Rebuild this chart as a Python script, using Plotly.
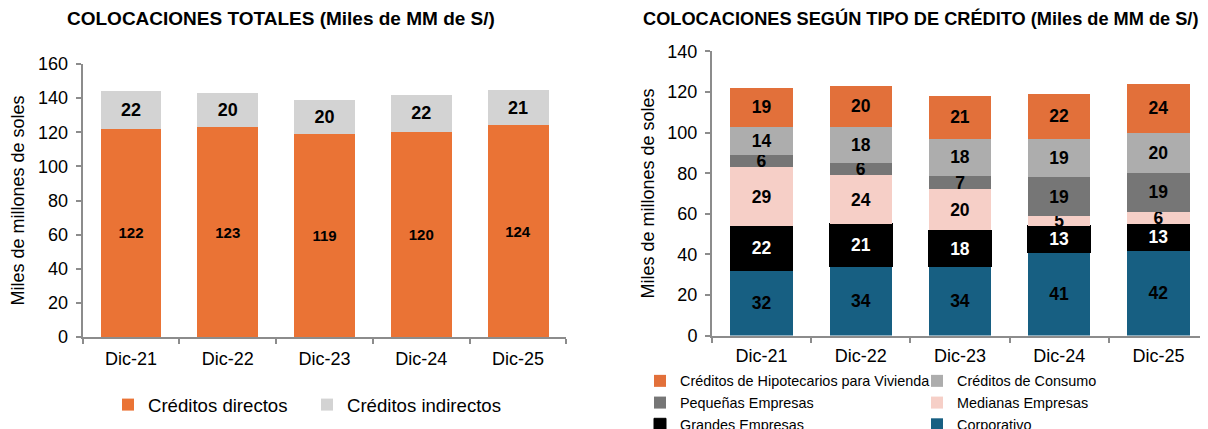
import plotly.graph_objects as go

categories = ["Dic-21", "Dic-22", "Dic-23", "Dic-24", "Dic-25"]

# Left chart
directos = [122, 123, 119, 120, 124]
indirectos = [22, 20, 20, 22, 21]

# Right chart (bottom to top)
corporativo = [32, 34, 33.8, 41, 42]
grandes = [22, 21, 18.2, 13, 13]
medianas = [29, 24, 20.1, 5, 6]
pequenas = [6, 6, 6.6, 19, 19]
consumo = [14, 18, 18.3, 19, 20]
hipotecarios = [19, 20, 21.2, 22, 24]

FONT = "Liberation Sans, Arial, sans-serif"
ORANGE = "#EA7335"
ORANGE2 = "#E2703A"

# page has an 8px body margin: figure sized to fit the 1208x429 window
W, H, OFF = 1200, 421, 8


def px(x):
    return (x - OFF) / W


def py(y):
    return 1 - (y - OFF) / H


fig = go.Figure()


def add_bar(y, name, color, xa, ya, legend, textcolor="black", size=17.5, line=None):
    fig.add_trace(go.Bar(
        x=categories, y=y, name=name, xaxis=xa, yaxis=ya, legend=legend,
        marker=dict(color=color, line=dict(width=0 if line is None else 1, color=line or color)),
        texttemplate="<b>%{y:.0f}</b>", textposition="inside", textangle=0,
        insidetextanchor="middle", constraintext="none",
        textfont=dict(family=FONT, size=size, color=textcolor),
    ))


add_bar(directos, "Créditos directos", ORANGE, "x", "y", "legend", size=15)
add_bar(indirectos, "Créditos indirectos", "#D3D3D3", "x", "y", "legend4", size=18)

add_bar(corporativo, "Corporativo", "#175F82", "x2", "y2", "legend3")
add_bar(grandes, "Grandes Empresas", "#000000", "x2", "y2", "legend2", "white", line="#000000")
add_bar(medianas, "Medianas Empresas", "#F6CFC7", "x2", "y2", "legend3")
add_bar(pequenas, "Pequeñas Empresas", "#767676", "x2", "y2", "legend2")
add_bar(consumo, "Créditos de Consumo", "#ADADAD", "x2", "y2", "legend3")
add_bar(hipotecarios, "Créditos de Hipotecarios para Vivienda", ORANGE2, "x2", "y2", "legend2")

axis_common = dict(showline=True, linecolor="#8C8C8C", linewidth=2, ticks="outside",
                   tickcolor="#8C8C8C", ticklen=5, tickwidth=2, showgrid=False, zeroline=False,
                   automargin=False,
                   tickfont=dict(family=FONT, size=18, color="black"))


def ytitle(standoff):
    return dict(text="Miles de millones de soles", font=dict(family=FONT, size=18), standoff=standoff)


leg_common = dict(orientation="v", xanchor="left", yanchor="middle", tracegroupgap=0,
                  itemwidth=30, bgcolor="rgba(0,0,0,0)", traceorder="reversed")

LOFF = 49  # legend left edge -> text start

fig.update_layout(
    width=W, height=H,
    margin=dict(l=0, r=0, t=0, b=0, autoexpand=False),
    paper_bgcolor="white", plot_bgcolor="white",
    barmode="stack", bargap=0.37,
    font=dict(family=FONT, color="black"),
    xaxis=dict(domain=[px(82.6), px(566.4)], anchor="y", tickson="boundaries",
               ticklabelstandoff=4, **axis_common),
    yaxis=dict(domain=[py(337), py(64)], anchor="x", range=[0, 160], dtick=20, title=ytitle(16),
               ticklabelstandoff=4, **axis_common),
    xaxis2=dict(domain=[px(712), 1.0], anchor="y2", tickson="boundaries",
                ticklabelstandoff=3, **axis_common),
    yaxis2=dict(domain=[py(335.6), py(51.4)], anchor="x2", range=[0, 140], dtick=20, title=ytitle(8),
                ticklabelstandoff=4, **axis_common),
    legend=dict(x=px(149 - LOFF + 8), y=py(405), font=dict(family=FONT, size=18.6), **leg_common),
    legend4=dict(x=px(348 - LOFF + 8), y=py(405), font=dict(family=FONT, size=18.6), **leg_common),
    legend2=dict(x=px(681 - LOFF + 8), y=py(403), font=dict(family=FONT, size=14.4), **leg_common),
    legend3=dict(x=px(958 - LOFF + 8), y=py(403), font=dict(family=FONT, size=14.4), **leg_common),
    showlegend=True,
    annotations=[
        dict(text="<b>COLOCACIONES TOTALES (Miles de MM de S/)</b>", x=px(281), y=py(19),
             xref="paper", yref="paper", xanchor="center", yanchor="middle", showarrow=False,
             font=dict(family=FONT, size=19)),
        dict(text="<b>COLOCACIONES SEGÚN TIPO DE CRÉDITO (Miles de MM de S/)</b>", x=px(920), y=py(19),
             xref="paper", yref="paper", xanchor="center", yanchor="middle", showarrow=False,
             font=dict(family=FONT, size=18.2)),
    ],
)

fig.write_html("out.html")
